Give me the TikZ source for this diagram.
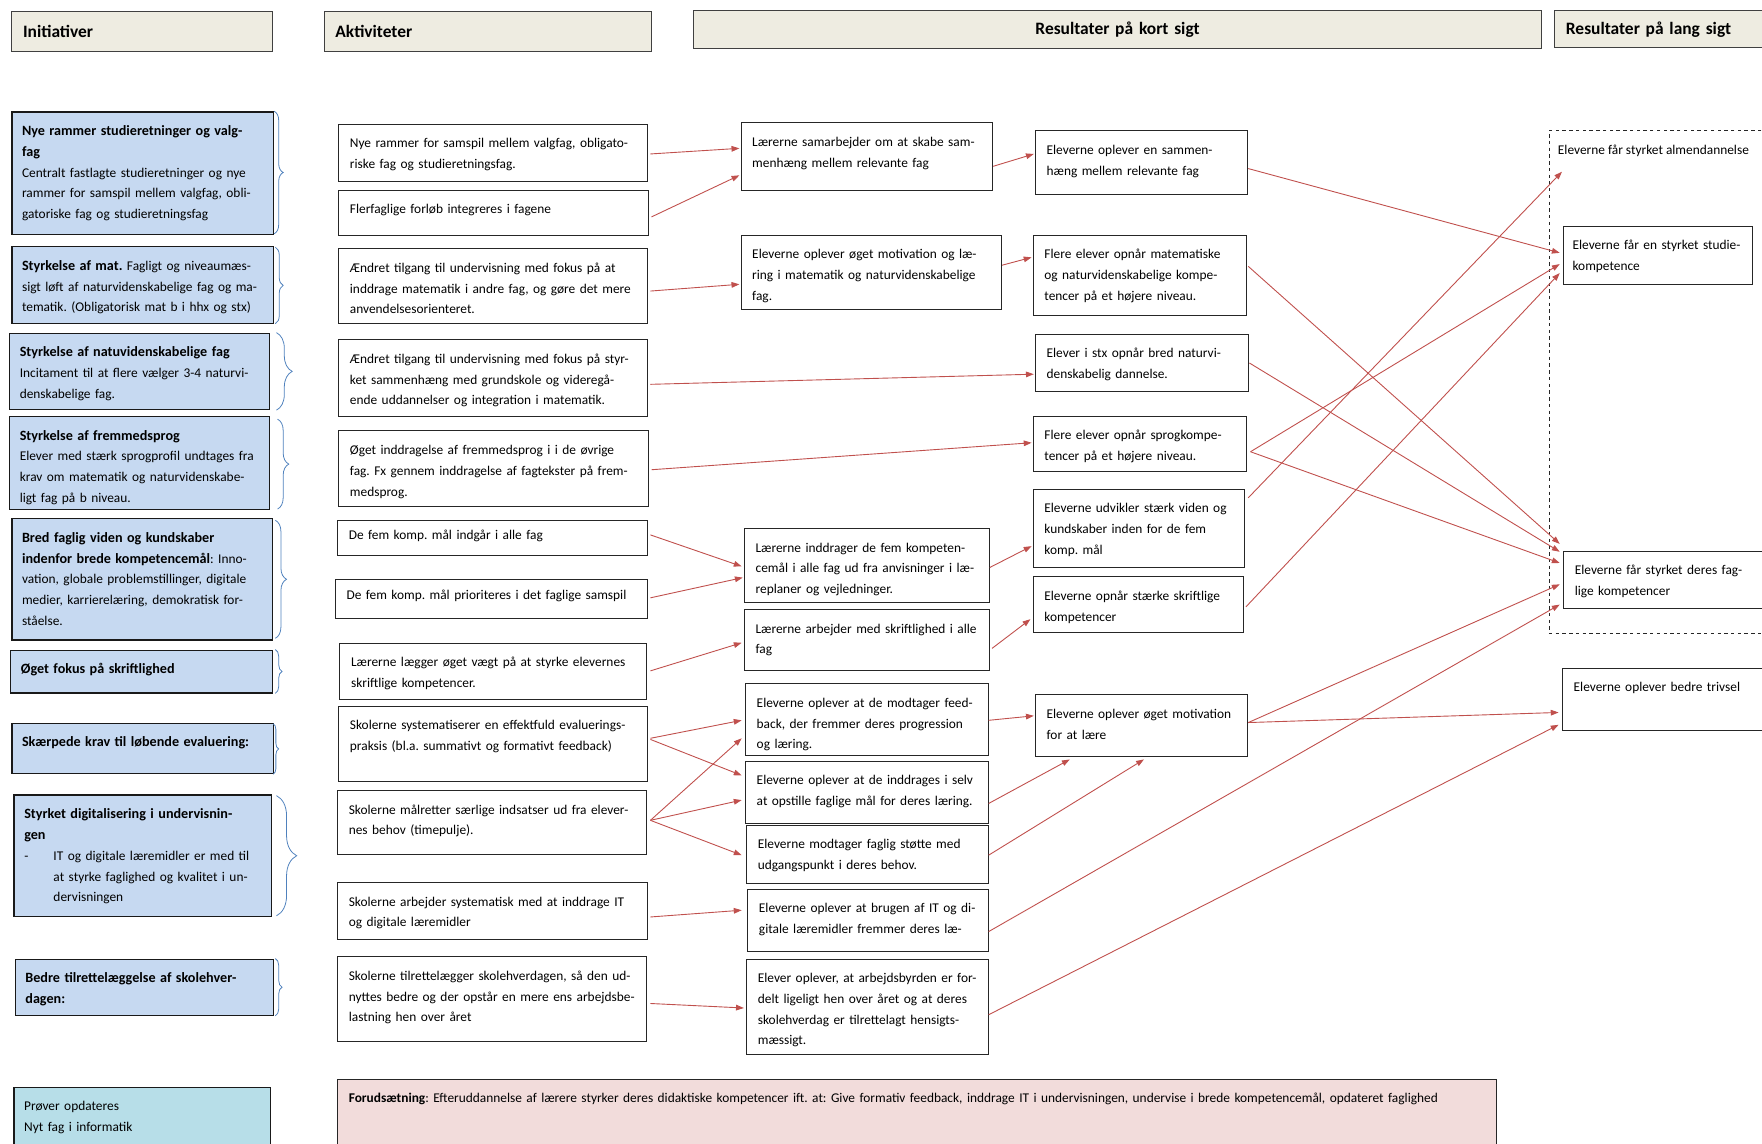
\documentclass[tikz,border=0pt]{standalone}
\usepackage{fontspec}
\setmainfont{Carlito}
\usetikzlibrary{calc,arrows.meta,decorations.pathreplacing}
\frenchspacing

\definecolor{hdrfill}{HTML}{EEECE1}
\definecolor{inifill}{HTML}{C6D9F1}
\definecolor{provfill}{HTML}{B7DEE8}
\definecolor{forfill}{HTML}{F2DCDB}
\definecolor{arrred}{HTML}{C0504D}
\definecolor{brkblue}{HTML}{4F81BD}

\newcommand{\inib}[1]{{\fontsize{12.6}{18.5}\selectfont\bfseries #1}}

\tikzset{
  hdr/.style={draw=black!75, line width=1pt, fill=hdrfill, anchor=north west, align=left,
    inner xsep=10pt, inner ysep=0pt, font=\fontsize{15.5}{18}\selectfont\bfseries},
  box/.style={draw=black!85, line width=0.8pt, anchor=north west, align=left,
    inner xsep=10pt, inner ysep=0pt, text height=21pt, font=\fontsize{11.9}{18.5}\selectfont},
  ini/.style={box, fill=inifill, line width=1.2pt, draw=black!90, inner xsep=9pt},
  arr/.style={arrred, line width=0.8pt, -{Triangle[length=7pt,width=5pt]}},
  brk/.style={brkblue, line width=0.7pt, decorate, decoration={brace, amplitude=#1}},
}

\begin{document}
\begin{tikzpicture}[x=1pt,y=-1pt]
  \useasboundingbox (0,0) rectangle (1568,1018);
  \clip (0,0) rectangle (1568,1018);

  % headers
  \node[hdr, text width=212pt, minimum height=35pt] (H1) at (10,10)   {Initiativer};
  \node[hdr, text width=271pt, minimum height=35pt] (H2) at (288,10)  {Aktiviteter};
  \node[hdr, text width=734pt, minimum height=34pt, align=center] (H3) at (617,9) {Resultater på kort sigt};
  \node[hdr, text width=210pt, minimum height=33pt] (H4) at (1383,9)  {Resultater på lang sigt};

  % initiativer
  \node[ini, text width=215pt, text depth=88pt] (I1) at (10,99)
    {\inib{Nye rammer studieretninger og valg-}\\\inib{fag}\\Centralt fastlagte studieretninger og nye\\rammer for samspil mellem valgfag, obli-\\gatoriske fag og studieretningsfag};
  \node[ini, text width=215pt, text depth=47pt] (I2) at (10,219)
    {\inib{Styrkelse af mat.} Fagligt og niveaumæs-\\sigt løft af naturvidenskabelige fag og ma-\\tematik. (Obligatorisk mat b i hhx og stx)};
  \node[ini, text width=213pt, text depth=47pt] (I3) at (8,296)
    {\inib{Styrkelse af natuvidenskabelige fag}\\Incitament til at flere vælger 3-4 naturvi-\\denskabelige fag.};
  \node[ini, text width=213pt, text depth=62pt] (I4) at (8,370)
    {\inib{Styrkelse af fremmedsprog}\\Elever med stærk sprogprofil undtages fra\\krav om matematik og naturvidenskabe-\\ligt fag på b niveau.};
  \node[ini, text width=214pt, text depth=87pt] (I5) at (10,461)
    {\inib{Bred faglig viden og kundskaber}\\\inib{indenfor brede kompetencemål}: Inno-\\vation, globale problemstillinger, digitale\\medier, karrierelæring, demokratisk for-\\ståelse.};
  \node[ini, text width=215pt, text depth=17pt] (I6) at (9,578)
    {\inib{Øget fokus på skriftlighed}};
  \node[ini, text width=215pt, text depth=24pt] (I7) at (10,643)
    {\inib{Skærpede krav til løbende evaluering:}};
  \node[ini, text width=211pt, text depth=87pt] (I8) at (12,707)
    {\inib{Styrket digitalisering i undervisnin-}\\\inib{gen}\\\makebox[26pt][l]{-}IT og digitale læremidler er med til\\\hspace*{26pt}at styrke faglighed og kvalitet i un-\\\hspace*{26pt}dervisningen};
  \node[ini, text width=212pt, text depth=29pt] (I9) at (13,853)
    {\inib{Bedre tilrettelæggelse af skolehver-}\\\inib{dagen:}};
  \node[ini, fill=provfill, line width=1pt, text width=210pt, text depth=70pt] (I10) at (12,967)
    {Prøver opdateres\\Nyt fag i informatik};

  % braces
  \foreach \bx/\ya/\yb/\amp in {244/99/208/8, 245/220/288/7, 246/296/365/14, 247/373/453/10,
      245/463/568/10, 245/578/617/6, 243/644/689/5, 246/708/815/18, 245/853/904/6}
    \draw[brk=\amp pt] (\bx,\ya) -- (\bx,\yb);

  % aktiviteter
  \node[box, text width=255pt, text depth=30pt] (A1) at (301,110)
    {Nye rammer for samspil mellem valgfag, obligato-\\riske fag og studieretningsfag.};
  \node[box, text width=256pt, text depth=19pt] (A2) at (301,169)
    {Flerfaglige forløb integreres i fagene};
  \node[box, text width=255pt, text depth=45pt] (A3) at (301,221)
    {Ændret tilgang til undervisning med fokus på at\\inddrage matematik i andre fag, og gøre det mere\\anvendelsesorienteret.};
  \node[box, text width=255pt, text depth=47pt] (A4) at (301,302)
    {Ændret tilgang til undervisning med fokus på styr-\\ket sammenhæng med grundskole og videregå-\\ende uddannelser og integration i matematik.};
  \node[box, text width=256pt, text depth=46pt] (A5) at (301,383)
    {Øget inddragelse af fremmedsprog i i de øvrige\\fag. Fx gennem inddragelse af fagtekster på frem-\\medsprog.};
  \node[box, text width=256pt, text height=17pt, text depth=14pt] (A6) at (300,463)
    {De fem komp. mål indgår i alle fag};
  \node[box, text width=258pt, text height=18pt, text depth=17pt] (A7) at (298,515)
    {De fem komp. mål prioriteres i det faglige samspil};
  \node[box, text width=253pt, text depth=29pt] (A8) at (302,572)
    {Lærerne lægger øget vægt på at styrke elevernes\\skriftlige kompetencer.};
  \node[box, text width=255pt, text depth=46pt] (A9) at (301,628)
    {Skolerne systematiserer en effektfuld evaluerings-\\praksis (bl.a. summativt og formativt feedback)};
  \node[box, text width=255pt, text depth=36pt] (A10) at (300,703)
    {Skolerne målretter særlige indsatser ud fra elever-\\nes behov (timepulje).};
  \node[box, text width=256pt, text depth=30pt] (A11) at (300,785)
    {Skolerne arbejder systematisk med at inddrage IT\\og digitale læremidler};
  \node[box, text width=255pt, text depth=54pt] (A12) at (300,851)
    {Skolerne tilrettelægger skolehverdagen, så den ud-\\nyttes bedre og der opstår en mere ens arbejdsbe-\\lastning hen over året};

  % kort sigt, 1
  \node[box, text width=204pt, text depth=39pt] (B1) at (659,109)
    {Lærerne samarbejder om at skabe sam-\\menhæng mellem relevante fag};
  \node[box, text width=212pt, text depth=45pt] (B2) at (659,209)
    {Eleverne oplever øget motivation og læ-\\ring i matematik og naturvidenskabelige\\fag.};
  \node[box, text width=198pt, text depth=45pt] (B3) at (662,470)
    {Lærerne inddrager de fem kompeten-\\cemål i alle fag ud fra anvisninger i læ-\\replaner og vejledninger.};
  \node[box, text width=198pt, text depth=33pt] (B4) at (662,542)
    {Lærerne arbejder med skriftlighed i alle\\fag};
  \node[box, text width=196pt, text depth=43pt] (B5) at (663,608)
    {Eleverne oplever at de modtager feed-\\back, der fremmer deres progression\\og læring.};
  \node[box, text width=196pt, text depth=34pt] (B6) at (663,677)
    {Eleverne oplever at de inddrages i selv\\at opstille faglige mål for deres læring.};
  \node[box, text width=195pt, text depth=31pt] (B7) at (664,734)
    {Eleverne modtager faglig støtte med\\udgangspunkt i deres behov.};
  \node[box, text width=194pt, text depth=34pt] (B8) at (665,791)
    {Eleverne oplever at brugen af IT og di-\\gitale læremidler fremmer deres læ-};
  \node[box, text width=195pt, text depth=64pt] (B9) at (664,853)
    {Elever oplever, at arbejdsbyrden er for-\\delt ligeligt hen over året og at deres\\skolehverdag er tilrettelagt hensigts-\\mæssigt.};

  % kort sigt, 2
  \node[box, text width=169pt, text depth=36pt] (C1) at (921,116)
    {Eleverne oplever en sammen-\\hæng mellem relevante fag};
  \node[box, text width=170pt, text depth=50pt] (C2) at (919,209)
    {Flere elever opnår matematiske\\og naturvidenskabelige kompe-\\tencer på et højere niveau.};
  \node[box, text width=170pt, text depth=30pt] (C3) at (921,297)
    {Elever i stx opnår bred naturvi-\\denskabelig dannelse.};
  \node[box, text width=170pt, text depth=28pt] (C4) at (919,370)
    {Flere elever opnår sprogkompe-\\tencer på et højere niveau.};
  \node[box, text width=168pt, text depth=49pt] (C5) at (919,435)
    {Eleverne udvikler stærk viden og\\kundskaber inden for de fem\\komp. mål};
  \node[box, text width=167pt, text depth=28pt] (C6) at (919,513)
    {Eleverne opnår stærke skriftlige\\kompetencer};
  \node[box, text width=169pt, text depth=34pt] (C7) at (921,618)
    {Eleverne oplever øget motivation\\for at lære};

  % lang sigt
  \node[draw=black!85, line width=0.8pt, dashed, anchor=north west, minimum width=240pt,
    minimum height=447pt, inner sep=0pt] (LS) at (1378,116) {};
  \node[box, draw=none, text depth=6pt] (L0) at (1376,116)
    {Eleverne får styrket almendannelse};
  \node[box, inner xsep=8pt, text width=152pt, text depth=31pt] (L1) at (1391,201)
    {\mbox{Eleverne får en styrket studie-}\\kompetence};
  \node[box, text width=210pt, text depth=30pt] (L2) at (1391,490)
    {Eleverne får styrket deres fag-\\lige kompetencer};
  \node[box, text width=210pt, text depth=35pt] (L3) at (1390,594)
    {Eleverne oplever bedre trivsel};

  % forudsaetning
  \node[box, fill=forfill, text width=1011pt, text depth=70pt] (F) at (300,960)
    {\textbf{Forudsætning}: Efteruddannelse af lærere styrker deres didaktiske kompetencer ift. at: Give formativ feedback, inddrage IT i undervisningen, undervise i brede kompetencemål, opdateret faglighed};

  % aktiviteter -> kort sigt
  \path[arr]
    ($(A1.north east)+(2,27)$)   edge  ($(B1.north west)+(-1,23)$)
    ($(A2.north east)+(2,24)$)   edge  ($(B1.north west)+(-1,47)$)
    ($(A3.north east)+(2,38)$)   edge  ($(B2.north west)+(-1,44)$)
    ($(A4.north east)+(2,40)$)   edge  ($(C3.north west)+(-1,36)$)
    ($(A5.north east)+(2,35)$)   edge  ($(C4.north west)+(-1,24)$)
    ($(A6.north east)+(2,13)$)   edge  ($(B3.north west)+(-2,34)$)
    ($(A7.north east)+(2,17)$)   edge  ($(B3.north west)+(-1,44)$)
    ($(A8.north east)+(3,25)$)   edge  ($(B4.north west)+(-2,30)$)
    ($(A9.north east)+(2,29)$)   edge  ($(B5.north west)+(-3,33)$)
    ($(A9.north east)+(2,30)$)   edge  ($(B6.north west)+(-3,13)$)
    ($(A10.north east)+(3,27)$)  edge  ($(B5.north west)+(-3,49)$)
    ($(A10.north east)+(3,27)$)  edge  ($(B6.north west)+(-3,35)$)
    ($(A10.north east)+(3,27)$)  edge  ($(B7.north west)+(-4,27)$)
    ($(A11.north east)+(2,31)$)  edge  ($(B8.north west)+(-5,19)$)
    ($(A12.north east)+(3,42)$)  edge  ($(B9.north west)+(-2,44)$);

  % kort sigt 1 -> kort sigt 2
  \path[arr]
    ($(B1.north east)+(0,39)$)   edge  ($(C1.north west)+(-1,21)$)
    ($(B2.north east)+(0,27)$)   edge  ($(C2.north west)+(-1,20)$)
    ($(B3.north east)+(0,35)$)   edge  ($(C5.north west)+(-1,51)$)
    ($(B4.north east)+(2,35)$)   edge  ($(C6.north west)+(-2,38)$)
    ($(B5.north east)+(0,33)$)   edge  ($(C7.north west)+(-1,19)$)
    ($(B6.north east)+(0,38)$)   edge  ($(C7.south west)+(31,2)$)
    ($(B7.north east)+(0,27)$)   edge  ($(C7.south west)+(97,2)$);

  % kort sigt -> lang sigt
  \path[arr]
    ($(C1.north east)+(0,34)$)   edge  ($(L1.north west)+(-3,24)$)
    ($(C2.north east)+(1,28)$)   edge  ($(L2.north west)+(-3,-6)$)
    ($(C3.north east)+(0,26)$)   edge  ($(L2.north west)+(-3,1)$)
    ($(C4.north east)+(3,32)$)   edge  ($(L1.north west)+(-3,34)$)
    ($(C4.north east)+(3,32)$)   edge  ($(L2.north west)+(-3,11)$)
    ($(C5.north east)+(3,8)$)    edge  ($(L0.south west)+(14,9)$)
    ($(C6.north east)+(2,27)$)   edge  ($(L1.north west)+(-3,42)$)
    ($(C7.north east)+(0,25)$)   edge  ($(L2.north west)+(-3,30)$)
    ($(C7.north east)+(0,25)$)   edge  ($(L3.north west)+(-3,40)$)
    ($(B8.north east)+(0,38)$)   edge  ($(L2.north west)+(-3,48)$)
    ($(B9.north east)+(0,50)$)   edge  ($(L3.north west)+(-3,51)$);
\end{tikzpicture}
\end{document}
